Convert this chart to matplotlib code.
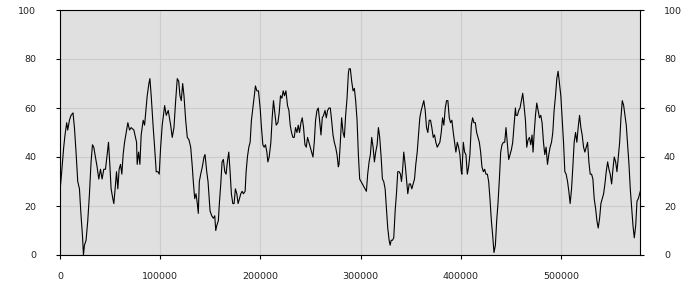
import numpy as np
import matplotlib
matplotlib.use("Agg")
import matplotlib.pyplot as plt

# x positions (in thousands) and values
x_k = [
    0, 1.7, 3.7, 5, 6.7, 7.7, 9.4, 11, 13, 14.4, 16, 17.7, 19.4, 21, 22.4, 23.4, 24.4, 26,
    27.7, 29.4, 31, 32.4, 33.7, 35.4, 37, 38.7, 40.4, 42, 43.7, 45.4, 47, 48.4, 49.7, 51,
    52.7, 53.7, 55, 56.4, 57.7, 59, 60.4, 61.7, 63, 64.4, 66, 67.7, 69.4, 71, 73.7, 76.4,
    77, 78.4, 79.7, 81, 83, 84.4, 85.7, 87, 88.7, 89.7, 91, 93, 94.4, 96, 97.7, 99, 100.4,
    102, 104.4, 106, 108, 110.4, 112, 113.7, 115.4, 117, 118.4, 119.7, 121, 122.4, 123.7,
    125.4, 127, 128.7, 130.4, 132, 133, 134.4, 135.7, 137, 138, 139, 140.4, 142, 143.7,
    144.7, 146.4, 147.7, 149.7, 151.4, 153, 154.4, 155.4, 156.4, 158, 159, 160.4, 161.7,
    163, 164.4, 165.7, 167, 168.4, 169.7, 171, 172.4, 173.7, 175, 176.4, 177.7, 179, 180.4,
    181.7, 183, 184.7, 185.7, 187, 188.4, 189.7, 191, 192.4, 193.7, 195, 196.4, 198, 199.7,
    201, 202.4, 203.7, 205, 206.4, 207.4, 208.7, 210.4, 211.7, 213, 214.4, 215.7, 217.4,
    218.7, 220, 221.4, 222.7, 224, 225.4, 227, 228.4, 229.7, 231, 232.4, 233.7, 235, 236.4,
    237.7, 239, 240.4, 241.7, 243, 244.4, 245.7, 247, 248.4, 249.7, 251, 252.4, 253.7, 255,
    256.4, 257.7, 259, 260.4, 261.7, 263, 264.4, 265.7, 267, 268.4, 269.7, 271, 272.4,
    273.7, 275, 276.4, 277.7, 278.4, 279.7, 281, 282.4, 283.7, 285, 286.4, 287.7, 288.4,
    289.7, 291, 292.4, 293.7, 295, 296.4, 297.7, 299, 300.4, 301.7, 303, 304.4, 305.7, 307,
    308.4, 309.7, 311, 312.4, 313.7, 315, 316.4, 317.7, 319, 320.4, 321.7, 323, 324.4,
    325.7, 327, 328.4, 329.4, 330.4, 331.7, 333, 334.4, 335.7, 337, 338.4, 339.7, 340.7,
    341.7, 343, 344.4, 345.7, 347, 348.4, 349.7, 351, 352.4, 353.7, 355, 356.4, 357.7, 359,
    360.4, 361.7, 363, 364.4, 365.7, 367, 368.4, 369.7, 371, 372.4, 373.7, 375, 376.4,
    377.7, 379, 380.4, 381.7, 383, 384.4, 385.7, 387, 388.4, 389.7, 391, 392.4, 393.7, 395,
    396.4, 397.7, 399, 400.4, 401, 402.4, 403.7, 405, 406.4, 407.7, 409, 410.4, 411.7, 413,
    414.4, 415.7, 417, 418.4, 419.7, 421, 422.4, 423.7, 425, 426.4, 427.7, 429, 430.4,
    431.7, 433, 434.4, 435.7, 437, 438.4, 439.7, 441, 442.4, 443.7, 445, 446.4, 447.7, 449,
    450.4, 451.7, 453, 454.4, 455, 456.4, 457.7, 459, 460.4, 461.7, 463, 464.4, 465.7, 467,
    468.4, 469.7, 471, 472, 473, 474.4, 475.7, 477, 478.4, 479.7, 481, 482.4, 483.7, 485,
    486.4, 487.7, 489, 490.4, 491.7, 493, 494.4, 495.7, 497, 498.4, 499.7, 501, 502.4,
    503.7, 505, 506.4, 507.7, 509, 510.4, 511.7, 513, 514.4, 515.7, 517, 518.4, 519.7, 521,
    522.4, 523.7, 525, 526.4, 527.7, 529, 530.4, 531.7, 533, 534.4, 535.7, 537, 538.4,
    539.7, 541, 542.4, 543.7, 545, 546.4, 547.7, 549, 550.4, 551.7, 553, 554.4, 555.7, 557,
    558.4, 559.7, 561, 562.4, 563.7, 565, 566.4, 567.7, 569, 570.4, 571.7, 573, 574.4,
    575.7, 577, 578.4, 579,
]
values = [
    26, 34, 44, 49, 54, 51, 55, 57, 58, 52, 42, 30, 27, 16, 8, 0, 4, 6,
    14, 25, 38, 45, 44, 40, 36, 31, 35, 31, 35, 35, 41, 46, 37, 27,
    23, 21, 27, 34, 27, 35, 37, 33, 41, 46, 50, 54, 51, 52, 51, 46,
    37, 42, 37, 49, 55, 53, 59, 65, 70, 72, 65, 52, 44, 34, 34, 33, 44,
    53, 61, 57, 59, 53, 48, 52, 63, 72, 71, 65, 63, 70, 65,
    55, 48, 47, 44, 36, 30, 23, 25, 21, 17, 30, 33, 36, 40,
    41, 34, 30, 18, 16, 15, 16, 10, 12, 14, 21, 29, 38,
    39, 34, 33, 38, 42, 34, 25, 21, 21, 27, 25, 21, 23, 25,
    26, 25, 26, 34, 40, 44, 46, 55, 60, 65, 69, 67, 67, 60,
    52, 45, 44, 45, 42, 38, 40, 46, 56, 63, 58, 53, 54,
    58, 65, 64, 67, 65, 67, 61, 59, 53, 50, 48, 48, 52, 50,
    53, 50, 54, 56, 52, 45, 44, 48, 46, 44, 42, 40, 46, 55,
    59, 60, 55, 49, 56, 57, 59, 56, 59, 60, 60, 55, 49,
    46, 44, 41, 36, 37, 46, 56, 50, 48, 57, 64, 74, 76,
    76, 71, 67, 68, 63, 55, 41, 31, 30, 29, 28, 27, 26, 33,
    38, 41, 48, 44, 38, 42, 45, 52, 48, 40, 31, 30, 27,
    19, 11, 6, 4, 6, 6, 7, 18, 25, 34, 34, 33, 30,
    34, 42, 37, 31, 25, 29, 29, 27, 29, 31, 37, 42, 49, 56,
    59, 61, 63, 59, 52, 50, 55, 55, 52, 48, 49, 46, 44,
    45, 46, 50, 56, 53, 60, 63, 63, 56, 54, 55, 50, 46, 42,
    46, 44, 41, 34, 33, 46, 42, 41, 33, 36, 41, 53, 56, 54,
    54, 50, 48, 46, 42, 36, 34, 35, 33, 33, 30, 23, 14,
    8, 1, 4, 14, 21, 31, 42, 45, 46, 46, 52, 45, 39, 41,
    43, 46, 53, 60, 57, 57, 59, 60, 63, 66, 61, 55, 44, 47,
    48, 45, 49, 42, 49, 57, 62, 59, 56, 57, 54, 46, 41, 44,
    37, 41, 44, 46, 50, 59, 65, 72, 75, 70, 65, 56, 46,
    34, 33, 30, 26, 21, 27, 36, 46, 50, 46, 52, 57, 52, 49,
    44, 42, 44, 46, 38, 33, 33, 31, 23, 19, 14, 11, 15,
    21, 23, 25, 29, 34, 38, 35, 33, 29, 35, 40, 38, 34, 40,
    46, 56, 63, 61, 57, 53, 45, 37, 27, 19, 12, 7, 12,
    22, 23, 25, 26,
]
x_ticks = [0, 100000, 200000, 300000, 400000, 500000]
y_ticks = [0, 20, 40, 60, 80, 100]

x = np.array(x_k) * 1000

fig = plt.figure(figsize=(7, 3), dpi=100)
ax = fig.add_axes([60 / 700, 45 / 300, 580.3 / 700, 245 / 300])
ax.set_facecolor("#e0e0e0")
ax.plot(x, values, color="black", linewidth=0.8)

ax.set_xlim(0, 579000)
ax.set_ylim(0, 100)
ax.set_xticks(x_ticks)
ax.set_xticklabels([str(t) for t in x_ticks])
ax.set_yticks(y_ticks)
ax.grid(True, color="#cccccc", linewidth=0.8)
ax.set_axisbelow(True)
for s in ax.spines.values():
    s.set_color("black")
    s.set_linewidth(0.8)

ax.tick_params(axis="y", which="both", left=True, right=True,
               labelleft=True, labelright=True, length=3, width=0.8,
               pad=14, labelsize=6.8, labelcolor="#222222")
ax.tick_params(axis="x", length=3, width=0.8, pad=9,
               labelsize=6.8, labelcolor="#222222")

fig.savefig("out.png", dpi=100)
